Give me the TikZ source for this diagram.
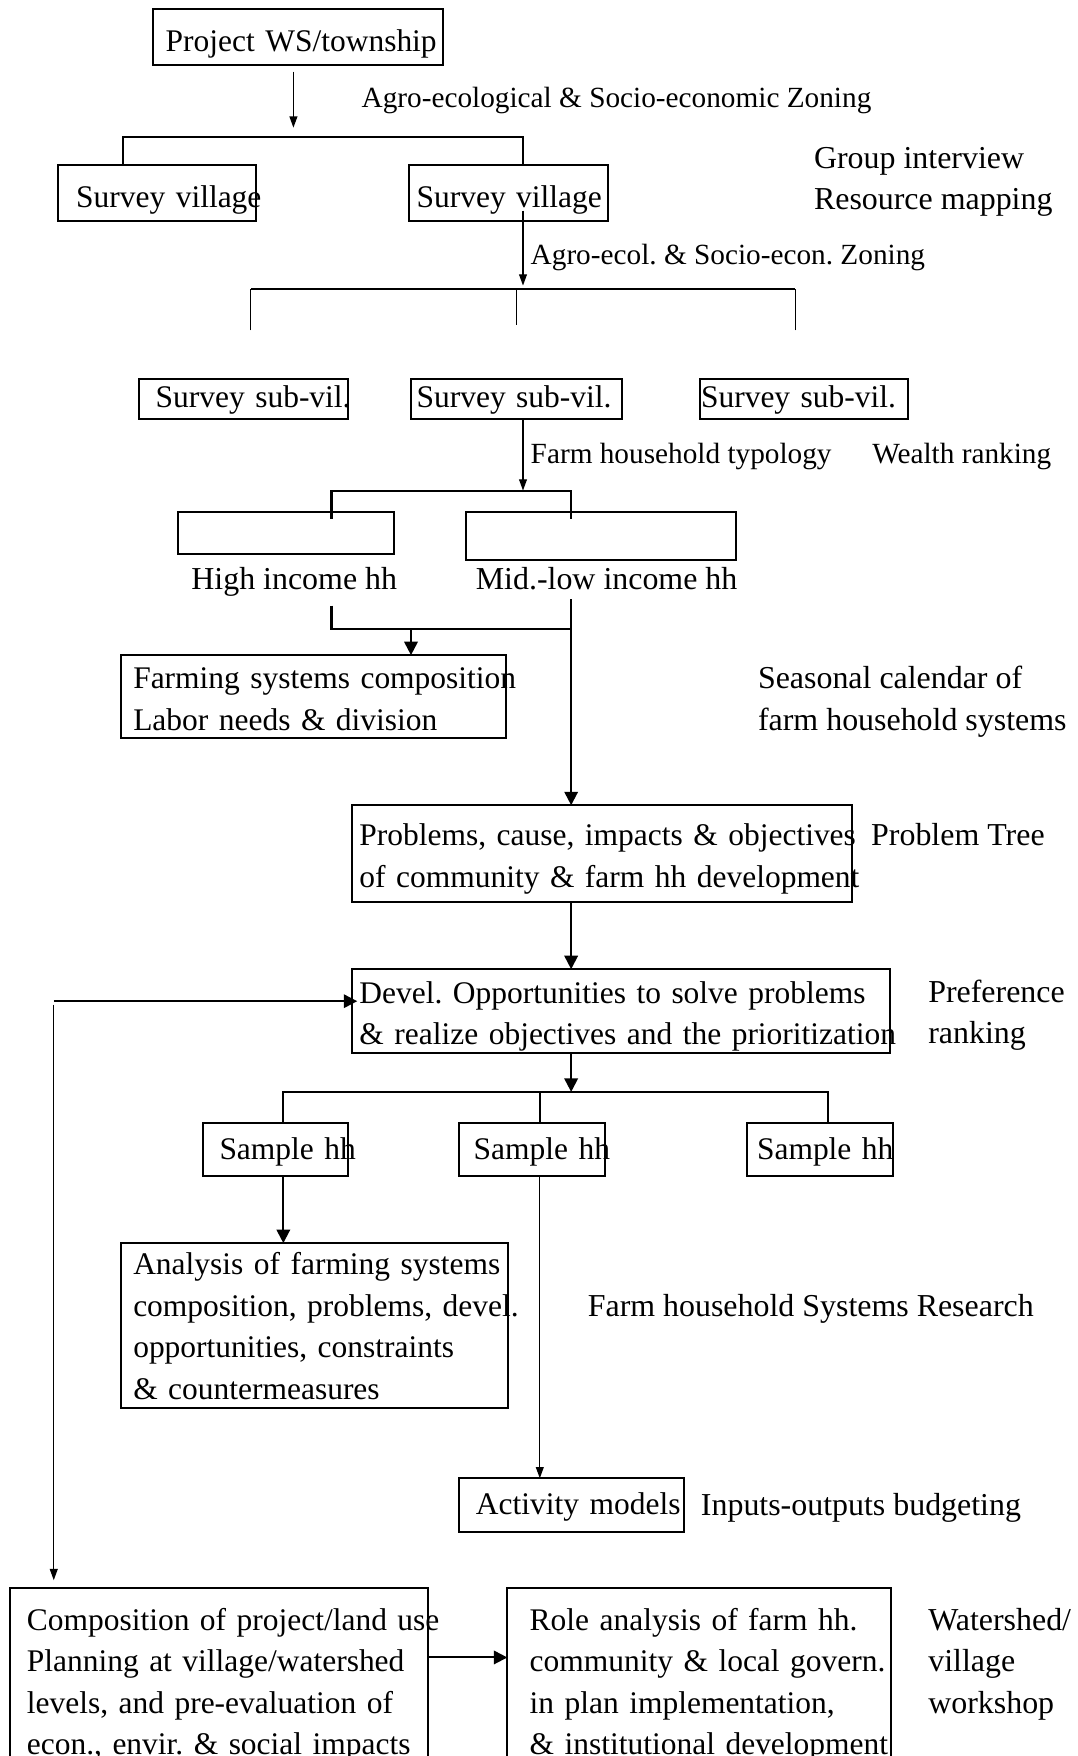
\documentclass[tikz,border=0pt]{standalone}
\usepackage{fontspec}
\setmainfont{Liberation Serif}
\usetikzlibrary{arrows.meta}
\frenchspacing
\hyphenpenalty=10000
\exhyphenpenalty=10000

\begin{document}
\begin{tikzpicture}[x=1pt, y=1pt, >={Triangle[length=6pt,width=6pt]}, line width=0.9pt,
  font=\fontsize{14.25pt}{18.5pt}\selectfont,
  box/.style={draw, align=left, inner ysep=1pt, outer sep=0pt, font=\fontsize{14.05pt}{18.5pt}\selectfont},
  note/.style={anchor=west, inner sep=0pt, align=left},
  small/.style={font=\fontsize{13.07pt}{16pt}\selectfont},
  slim/.style={line width=0.55pt, >={Triangle[length=5pt,width=3.5pt]}}]
\useasboundingbox (0,0) rectangle (481,-784);

% boxes, top to bottom
\node[box, text width=118.5pt, inner xsep=5.5pt, minimum height=25pt, text height=15.6pt] (proj) at (133.25,-16.5) {Project~WS/township};
\node[box, text width=72.5pt, inner xsep=8pt, minimum height=25pt, text height=16.6pt] (vil1) at (70.25,-86) {Survey~village};
\node[box, text width=82pt, inner xsep=3.5pt, minimum height=25pt, text height=16.6pt] (vil2) at (227,-86) {Survey~village};
\node[box, text width=78.5pt, inner xsep=7.5pt, minimum height=18pt, text height=10.6pt] (sub1) at (108.75,-178) {Survey~sub-vil.};
\node[box, text width=89pt, inner xsep=2.5pt, minimum height=18pt, text height=10.6pt] (sub2) at (230.5,-178) {Survey~sub-vil.};
\node[box, text width=92pt, inner xsep=0.5pt, minimum height=18pt, text height=10.6pt] (sub3) at (359,-178) {Survey~sub-vil.};
\node[box, minimum width=96.5pt, minimum height=19pt] (inc1) at (127.75,-238) {};
\node[box, minimum width=120.5pt, minimum height=21.5pt] (inc2) at (268.25,-239.25) {};
\node[box, text width=161pt, inner xsep=5.5pt, minimum height=37pt, text height=11.6pt] (farm) at (140,-311) {Farming~systems~composition\\Labor needs \& division};
\node[box, text width=216.5pt, inner xsep=3.5pt, minimum height=43pt, text height=14.6pt] (probs) at (268.75,-381) {Problems,~cause,~impacts~\&~objectives\\of~community~\&~farm~hh~development};
\node[box, text width=233.5pt, inner xsep=3.5pt, minimum height=37pt, text height=14.1pt] (devel) at (277.25,-451.5) {Devel. Opportunities to solve problems\\\&~realize~objectives~and~the~prioritization};
\node[box, text width=50pt, inner xsep=7.5pt, minimum height=23.5pt, text height=11.6pt] (sam1) at (123,-513.25) {Sample~hh};
\node[box, text width=52pt, inner xsep=6.5pt, minimum height=23.5pt, text height=11.6pt] (sam2) at (237.5,-513.25) {Sample~hh};
\node[box, text width=56pt, inner xsep=4.5pt, minimum height=23.5pt, text height=11.6pt] (sam3) at (366,-513.25) {Sample~hh};
\node[box, text width=162pt, inner xsep=5.5pt, minimum height=73.5pt, text height=10.6pt] (ana) at (140.5,-591.75) {Analysis~of~farming~systems\\composition,~problems,~devel.\\opportunities, constraints\\\& countermeasures};
\node[box, text width=85.5pt, inner xsep=7.5pt, minimum height=24pt, text height=11.6pt] (act) at (255.25,-672) {Activity~models};
\node[box, text width=171.5pt, inner xsep=7.5pt, minimum height=83.5pt, text height=12.6pt] (comp) at (97.75,-750.75) {Composition~of~project/land~use\\Planning~at~village/watershed\\levels, and pre-evaluation of\\econ.,~envir.~\&~social~impacts};
\node[box, text width=151.25pt, inner xsep=10pt, minimum height=83.5pt, text height=12.6pt] (role) at (312.125,-750.75) {Role analysis of farm hh.\\community~\&~local~govern.\\in plan implementation,\\\&~institutional~development};

% side texts
\node[note, small] (zone1) at (161,-45) {Agro-ecological \& Socio-economic Zoning};
\node[note] (grp) at (363,-81.25) {Group interview\\Resource mapping};
\node[note, small] (zone2) at (236.5,-115) {Agro-ecol. \& Socio-econ. Zoning};
\node[note, small] (typo) at (236.5,-204) {Farm household typology};
\node[note, small] (wealth) at (389,-204) {Wealth ranking};
\node[note] (hi) at (85,-260) {High income hh};
\node[note] (midlow) at (212,-258.5) {Mid.-low income hh};
\node[note] (seas) at (338,-313.25) {Seasonal calendar of\\farm household systems};
\node[note] (ptree) at (388.5,-372.5) {Problem Tree};
\node[note] (pref) at (414,-453.25) {Preference\\ranking};
\node[note] (fsr) at (262,-584.5) {Farm household Systems Research};
\node[note] (budget) at (312.5,-673) {Inputs-outputs budgeting};
\node[note] (wshop) at (414,-743) {Watershed/\\village\\workshop};

% bends and bars
\coordinate (a1) at (131,-57);
\coordinate (bar1l) at (55,-61);
\coordinate (bar1r) at (233.5,-61);
\coordinate (a2) at (233.5,-127.5);
\coordinate (bar2) at (0,-129);
\coordinate (leg1) at (112,-147.5);
\coordinate (leg2) at (230.5,-145);
\coordinate (leg3) at (355,-147.5);
\coordinate (bar3l) at (148,-219);
\coordinate (bar3r) at (255,-219);
\coordinate (m3l) at (148,-281);
\coordinate (m3a) at (183.5,-281);
\coordinate (m3r) at (255,-281);
\coordinate (bar4l) at (126.5,-487.5);
\coordinate (bar4m) at (241,-487.5);
\coordinate (bar4r) at (369.5,-487.5);
\coordinate (fb) at (24,-447);

\draw[slim, ->] ([yshift=-3pt]proj.south -| a1) -- (a1);
\draw (vil1.north -| bar1l) -- (bar1l) -- (bar1r) -- (vil2.north -| bar1r);
\draw[slim, ->] ([yshift=4.5pt]vil2.south -| a2) -- (a2);
\draw (leg1 |- bar2) -- (leg3 |- bar2);
\draw[slim] (leg1) -- (leg1 |- bar2) (leg2) -- (leg2 |- bar2) (leg3) -- (leg3 |- bar2);
\draw[slim, ->] (sub2.south -| a2) -- (a2 |- bar3l);
\draw ([yshift=-3pt]inc1.north -| bar3l) -- (bar3l) -- (bar3r) -- ([yshift=-3pt]inc2.north -| bar3r);
\draw ([yshift=-3.5pt]hi.south -| m3l) -- (m3l) -- (m3r);
\draw[->] ([yshift=-3.5pt]midlow.south -| m3r) -- (probs.north -| m3r);
\draw[->] (m3a) -- (farm.north -| m3a);
\draw[->] (probs.south -| m3r) -- (devel.north -| m3r);
\draw[->] (devel.south -| m3r) -- (bar4l -| m3r);
\draw (sam1.north -| bar4l) -- (bar4l) -- (bar4r) -- (sam3.north -| bar4r);
\draw (sam2.north -| bar4m) -- (bar4m);
\draw[->] (sam1.south -| bar4l) -- (ana.north -| bar4l);
\draw[slim, ->] (sam2.south -| bar4m) -- (act.north -| bar4m);
\draw[->] (fb) -- ([xshift=2.5pt]devel.west |- fb);
\draw[slim, ->] ([yshift=-1.5pt]fb) -- ([yshift=3.5pt]comp.north -| fb);
\draw[->] ([yshift=10.75pt]comp.east) -- ([yshift=10.75pt]role.west);
\end{tikzpicture}
\end{document}
